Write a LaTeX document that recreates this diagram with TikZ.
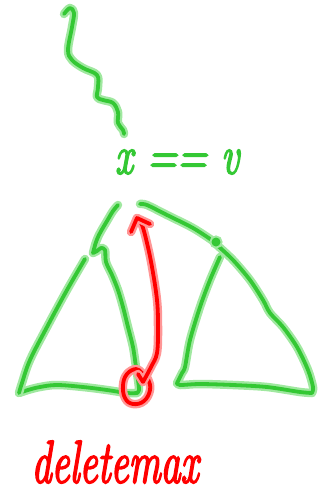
\documentclass[tikz,border=0pt]{standalone}
\usepackage{fontspec}
\newfontfamily\hand[FakeBold=3.5]{Latin Modern Roman}
\definecolor{gcore}{RGB}{52,200,52}
\definecolor{gglow}{RGB}{160,232,160}
\definecolor{rcore}{RGB}{255,0,0}
\definecolor{rglow}{RGB}{255,150,150}
\tikzset{
  gstroke/.style={draw=gcore, line width=3.8pt, line cap=round, line join=round,
    preaction={draw=gglow, line width=8.5pt, line cap=round, line join=round}},
  rstroke/.style={draw=rcore, line width=3.8pt, line cap=round, line join=round,
    preaction={draw=rglow, line width=8.5pt, line cap=round, line join=round}},
  gtext/.style={text=gcore, font=\hand\itshape\fontsize{40}{44}\selectfont, inner sep=0pt},
  rtext/.style={text=rcore, font=\hand\itshape\fontsize{40}{44}\selectfont, inner sep=0pt}
}
\begin{document}
\begin{tikzpicture}[x=1pt,y=-1pt]
\useasboundingbox (0,0) rectangle (320,499);
% wavy line
\draw[gstroke] plot[smooth, tension=0.6] coordinates {(64,14) (70,8) (74,13) (72,27) (68,50) (72,60) (83,68) (97,75) (98,87) (97,97) (103,100) (113,103) (118,112) (118,123) (123,130) (124,134)};
% text x == v
\node[gtext, yscale=1.35] (eq) at (177,162) {x == v};
% left triangle
\draw[gstroke] plot[smooth, tension=0.6] coordinates {(118,205) (113,211) (107,221) (100,233) (96,242) (93,253)}
  -- plot[smooth, tension=0.5] coordinates {(93,253) (97,251) (101,248) (105,250) (106,262) (112,275) (118,290) (123,307) (128,327) (133,347) (136,367) (138,380) (139,390) (137,393)}
  -- plot[smooth, tension=0.6] coordinates {(137,393) (127,393) (107,390) (83,387) (57,385) (40,387) (28,390) (19,393)};
\draw[gstroke] plot[smooth, tension=0.6] coordinates {(85,259) (67,290) (47,327) (30,360) (22,383) (19,393)};
% right triangle
\draw[gstroke] plot[smooth, tension=0.5] coordinates {(140,204) (147,205) (167,215) (193,228) (213,241) (217,245) (233,260) (250,280) (263,300) (270,313) (283,327) (297,347) (308,370) (313,387) (312,393)}
  -- plot[smooth, tension=0.5] coordinates {(312,393) (300,392) (267,387) (233,385) (200,384) (180,385) (177,383)}
  -- plot[smooth, tension=0.5] coordinates {(177,383) (182,373) (185,367) (190,340) (200,307) (210,280) (220,257)};
\node[circle, fill=gcore, minimum size=9pt, inner sep=0pt, preaction={fill=gglow, draw=gglow, line width=4pt}] (blob) at (216,242) {};
% red loop and arrow
\draw[rstroke] plot[smooth cycle, tension=0.7] coordinates {(136,369) (127,374) (123,385) (125,398) (133,404) (144,401) (150,390) (148,379) (142,373)};
\coordinate (start) at (143,382);
\coordinate (tick) at (138,374);
\coordinate (tip) at (137,218);
\coordinate (hl) at (131,232);
\coordinate (hr) at (150,224);
\draw[rstroke] (tick) -- (start) plot[smooth, tension=0.6] coordinates {(143,382) (151,367) (157,353) (158,327) (157,300) (152,267) (147,243) (142,225) (137,218)};
\draw[rstroke] (hl) -- (tip) -- (hr);
% deletemax
\node[rtext, yscale=1.5] (dm) at (115,462) {deletemax};
\end{tikzpicture}
\end{document}
